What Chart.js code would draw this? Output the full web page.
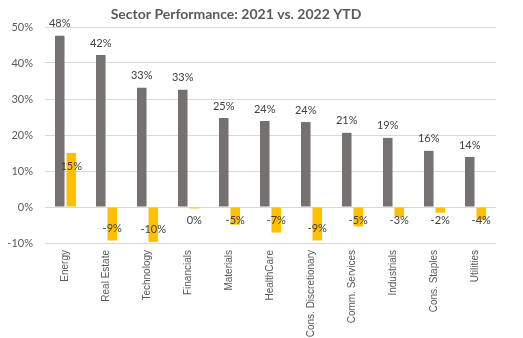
<!DOCTYPE html>
<html>
<head>
<meta charset="utf-8">
<script src="https://cdn.jsdelivr.net/npm/chart.js@4/dist/chart.umd.min.js"></script>
<style>
  html, body { margin: 0; padding: 0; background: #fff; }
  #wrap { width: 523px; height: 338px; position: relative; }
</style>
</head>
<body>
<div id="wrap"><canvas id="c" width="523" height="338"></canvas></div>
<script>
const categories = ["Energy", "Real Estate", "Technology", "Financials", "Materials", "HealthCare",
  "Cons. Discretionary", "Comm. Services", "Industrials", "Cons. Staples", "Utilities"];
const perf2021 = [47.6, 42.2, 33.1, 32.6, 24.7, 23.9, 23.6, 20.6, 19.2, 15.6, 13.9];
const perf2022 = [15.0, -9.3, -9.7, -0.4, -4.9, -7.1, -9.3, -5.4, -2.7, -1.6, -3.6];
const yTicks = [-10, 0, 10, 20, 30, 40, 50];
const titleText = "Sector Performance: 2021 vs. 2022 YTD";

const labelPlugin = {
  id: 'labels',
  afterDatasetsDraw(chart) {
    const ctx = chart.ctx;
    const zeroY = chart.scales.y.getPixelForValue(0);
    ctx.save();
    ctx.font = '11px Lato';
    ctx.fillStyle = '#404040';
    ctx.textAlign = 'center';
    ctx.textBaseline = 'middle';
    chart.data.datasets.forEach((ds, di) => {
      const meta = chart.getDatasetMeta(di);
      meta.data.forEach((el, i) => {
        const v = ds.data[i];
        const txt = `${Math.round(v)}%`;
        let y;
        if (di === 0) {
          y = el.y - 12;
        } else if (v >= 0) {
          y = el.y + 13;
        } else {
          y = Math.max(zeroY + 13, el.y - 12);
        }
        ctx.fillText(txt, el.x, y);
      });
    });
    ctx.restore();
  },
  afterDraw(chart) {
    const ctx = chart.ctx;
    ctx.save();
    ctx.font = 'bold 14px Lato';
    ctx.fillStyle = '#595959';
    ctx.textAlign = 'center';
    ctx.textBaseline = 'middle';
    ctx.fillText(titleText, 236, 14);
    ctx.restore();
  }
};

new Chart(document.getElementById('c'), {
  type: 'bar',
  data: {
    labels: categories,
    datasets: [
      { label: '2021', data: perf2021, backgroundColor: '#767171',
        categoryPercentage: 0.56, barPercentage: 0.83 },
      { label: '2022 YTD', data: perf2022, backgroundColor: '#FFC000',
        categoryPercentage: 0.56, barPercentage: 0.83 }
    ]
  },
  options: {
    responsive: false,
    animation: false,
    layout: { padding: { top: 27, right: 27, left: 0, bottom: 0 } },
    plugins: { legend: { display: false }, title: { display: false }, tooltip: { enabled: false } },
    scales: {
      x: {
        grid: { display: false, drawTicks: false },
        border: { display: false },
        ticks: {
          autoSkip: false, minRotation: 90, maxRotation: 90, padding: 7,
          color: '#595959', font: { family: 'Liberation Sans', size: 10 }
        },
        afterFit(s) { s.height = 95; }
      },
      y: {
        min: -10, max: 50,
        afterBuildTicks(s) { s.ticks = yTicks.map(v => ({ value: v })); },
        grid: { color: '#d9d9d9', drawTicks: false },
        border: { display: false },
        ticks: {
          padding: 12, color: '#595959', font: { family: 'Lato', size: 11 },
          callback: v => v + '%'
        },
        afterFit(s) { s.width = 45; }
      }
    }
  },
  plugins: [labelPlugin]
});
</script>
</body>
</html>
